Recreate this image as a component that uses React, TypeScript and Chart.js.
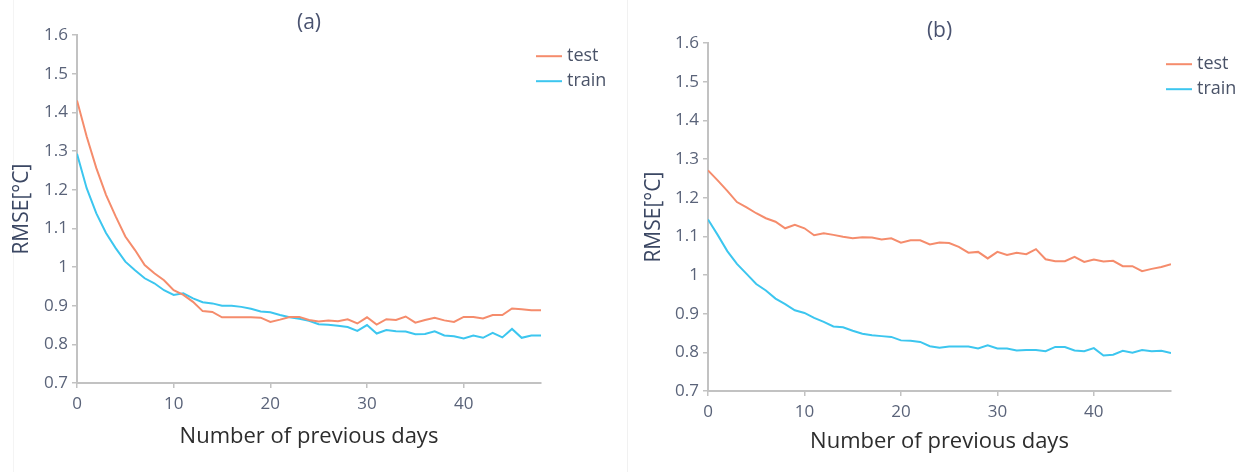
import React, { useEffect, useRef } from "react";
import { Chart, registerables } from "chart.js";

Chart.register(...registerables);

const days = [0, 1, 2, 3, 4, 5, 6, 7, 8, 9, 10, 11, 12, 13, 14, 15, 16, 17, 18, 19, 20, 21, 22, 23, 24, 25, 26, 27, 28, 29, 30, 31, 32, 33, 34, 35, 36, 37, 38, 39, 40, 41, 42, 43, 44, 45, 46, 47, 48];

const testA = [1.431, 1.338, 1.256, 1.187, 1.131, 1.079, 1.044, 1.005, 0.984, 0.966, 0.94, 0.928, 0.91, 0.886, 0.884, 0.87, 0.87, 0.87, 0.87, 0.869, 0.858, 0.864, 0.871, 0.871, 0.863, 0.859, 0.862, 0.86, 0.865, 0.854, 0.87, 0.851, 0.865, 0.863, 0.872, 0.856, 0.863, 0.869, 0.862, 0.858, 0.871, 0.871, 0.867, 0.876, 0.876, 0.893, 0.891, 0.888, 0.888];
const trainA = [1.293, 1.204, 1.139, 1.088, 1.049, 1.014, 0.992, 0.971, 0.958, 0.94, 0.928, 0.932, 0.919, 0.909, 0.906, 0.9, 0.9, 0.897, 0.892, 0.885, 0.883, 0.876, 0.87, 0.866, 0.861, 0.852, 0.851, 0.848, 0.845, 0.835, 0.85, 0.828, 0.837, 0.834, 0.833, 0.826, 0.827, 0.834, 0.823, 0.821, 0.815, 0.823, 0.817, 0.83, 0.818, 0.84, 0.817, 0.823, 0.823];

const testB = [1.271, 1.245, 1.218, 1.189, 1.175, 1.16, 1.147, 1.138, 1.121, 1.13, 1.121, 1.103, 1.108, 1.104, 1.099, 1.095, 1.098, 1.097, 1.092, 1.095, 1.084, 1.09, 1.09, 1.079, 1.084, 1.083, 1.073, 1.058, 1.06, 1.043, 1.06, 1.052, 1.058, 1.054, 1.067, 1.041, 1.036, 1.036, 1.047, 1.034, 1.04, 1.035, 1.037, 1.023, 1.023, 1.01, 1.016, 1.021, 1.028];
const trainB = [1.144, 1.104, 1.062, 1.029, 1.003, 0.977, 0.96, 0.939, 0.925, 0.909, 0.902, 0.889, 0.879, 0.867, 0.865, 0.856, 0.848, 0.844, 0.842, 0.84, 0.831, 0.83, 0.827, 0.816, 0.812, 0.815, 0.815, 0.815, 0.81, 0.818, 0.81, 0.81, 0.805, 0.806, 0.806, 0.803, 0.814, 0.814, 0.805, 0.803, 0.811, 0.792, 0.794, 0.804, 0.799, 0.806, 0.803, 0.804, 0.798];

const xTicks = [0, 10, 20, 30, 40];
const yTicks = [0.7, 0.8, 0.9, 1.0, 1.1, 1.2, 1.3, 1.4, 1.5, 1.6];
const seriesNames = ["test", "train"];
const panelTitles = ["(a)", "(b)"];
const xTitle = "Number of previous days";
const yTitle = "RMSE[°C]";

const TEST_COLOR = "#f58c6c";
const TRAIN_COLOR = "#3cc6ef";
const AXIS_COLOR = "#c2c2c2";
const FONT = '"Open Sans", sans-serif';

const cornerLegend = {
  id: "cornerLegend",
  afterDraw(chart: any, _args: any, opts: any) {
    const { ctx, chartArea } = chart;
    ctx.save();
    ctx.font = `18px ${FONT}`;
    ctx.textBaseline = "middle";
    ctx.textAlign = "left";
    chart.data.datasets.forEach((ds: any, i: number) => {
      const y = chartArea.top + opts.dy + i * 25;
      const x0 = chartArea.right + opts.dx;
      ctx.strokeStyle = ds.borderColor;
      ctx.lineWidth = 2;
      ctx.beginPath();
      ctx.moveTo(x0, y);
      ctx.lineTo(x0 + 26, y);
      ctx.stroke();
      ctx.fillStyle = "#4a5368";
      ctx.fillText(ds.label, x0 + 31, y);
    });
    ctx.restore();
  },
};

type Cfg = {
  yAxisWidth: number;
  padRight: number;
  titlePadTop: number;
  titlePadBottom: number;
  xAxisHeight: number;
  xTitlePadBottom: number;
  yTitlePadTop: number;
};

function Panel({ title, test, train, left, cfg }: { title: string; test: number[]; train: number[]; left: number; cfg: Cfg }) {
  const ref = useRef<HTMLCanvasElement | null>(null);
  useEffect(() => {
    if (!ref.current) return;
    const chart = new Chart(ref.current, {
      type: "line",
      data: {
        datasets: [
          {
            label: seriesNames[0],
            data: days.map((d, i) => ({ x: d, y: test[i] })),
            borderColor: TEST_COLOR,
            backgroundColor: TEST_COLOR,
            borderWidth: 2,
            pointRadius: 0,
            tension: 0,
          },
          {
            label: seriesNames[1],
            data: days.map((d, i) => ({ x: d, y: train[i] })),
            borderColor: TRAIN_COLOR,
            backgroundColor: TRAIN_COLOR,
            borderWidth: 2,
            pointRadius: 0,
            tension: 0,
          },
        ],
      },
      options: {
        responsive: false,
        animation: false,
        events: [],
        devicePixelRatio: 1,
        layout: { padding: { left: 0, top: 0, right: cfg.padRight, bottom: 0 } },
        plugins: {
          legend: { display: false },
          tooltip: { enabled: false },
          title: {
            display: true,
            text: title,
            fullSize: false,
            color: "#4a5370",
            font: { family: FONT, size: 21, weight: "normal" },
            padding: { top: cfg.titlePadTop, bottom: cfg.titlePadBottom },
          },
          cornerLegend: { dx: -5, dy: 21 },
        } as any,
        scales: {
          x: {
            type: "linear",
            min: 0,
            max: 48,
            afterBuildTicks: (s: any) => {
              s.ticks = xTicks.map((v) => ({ value: v }));
            },
            afterFit: (s: any) => {
              s.height = cfg.xAxisHeight;
            },
            ticks: {
              color: "#5a6379",
              font: { family: FONT, size: 17 },
              padding: 6,
              maxRotation: 0,
              autoSkip: false,
            },
            grid: {
              display: true,
              drawOnChartArea: false,
              drawTicks: true,
              tickLength: 5,
              color: AXIS_COLOR,
              lineWidth: 1.5,
            },
            border: { display: true, color: AXIS_COLOR, width: 2 },
            title: {
              display: true,
              text: xTitle,
              color: "#2d2d2d",
              font: { family: FONT, size: 22 },
              padding: { top: 0, bottom: cfg.xTitlePadBottom },
            },
          },
          y: {
            type: "linear",
            min: 0.7,
            max: 1.6,
            afterBuildTicks: (s: any) => {
              s.ticks = yTicks.map((v) => ({ value: v }));
            },
            afterFit: (s: any) => {
              s.width = cfg.yAxisWidth;
            },
            ticks: {
              color: "#5a6379",
              font: { family: FONT, size: 17 },
              padding: 4,
              callback: (v: any) => String(Math.round(Number(v) * 10) / 10),
            },
            grid: {
              display: true,
              drawOnChartArea: false,
              drawTicks: true,
              tickLength: 5,
              color: AXIS_COLOR,
              lineWidth: 1.5,
            },
            border: { display: true, color: AXIS_COLOR, width: 2 },
            title: {
              display: true,
              text: yTitle,
              color: "#3b4763",
              font: { family: FONT, size: 21 },
              padding: { top: cfg.yTitlePadTop, bottom: 0 },
            },
          },
        },
      },
      plugins: [cornerLegend as any],
    });
    return () => chart.destroy();
  }, []);
  return (
    <canvas
      ref={ref}
      width={620}
      height={472}
      style={{ position: "absolute", left, top: 0, width: 620, height: 472, display: "block" }}
    />
  );
}

const leftCfg: Cfg = {
  yAxisWidth: 77,
  padRight: 79,
  titlePadTop: 10,
  titlePadBottom: 0,
  xAxisHeight: 89,
  xTitlePadBottom: 22,
  yTitlePadTop: 9,
};

const rightCfg: Cfg = {
  yAxisWidth: 87,
  padRight: 70,
  titlePadTop: 18,
  titlePadBottom: 0,
  xAxisHeight: 81,
  xTitlePadBottom: 17,
  yTitlePadTop: 20,
};

export default function App() {
  return (
    <div style={{ position: "fixed", left: 0, top: 0, width: 1241, height: 472, background: "#ffffff", overflow: "hidden" }}>
      <div style={{ position: "absolute", left: 13, top: 0, width: 1, height: 472, background: "#f4f4f4" }} />
      <div style={{ position: "absolute", left: 627, top: 0, width: 1, height: 472, background: "#f1f1f1" }} />
      <Panel title={panelTitles[0]} test={testA} train={trainA} left={0} cfg={leftCfg} />
      <Panel title={panelTitles[1]} test={testB} train={trainB} left={621} cfg={rightCfg} />
    </div>
  );
}
